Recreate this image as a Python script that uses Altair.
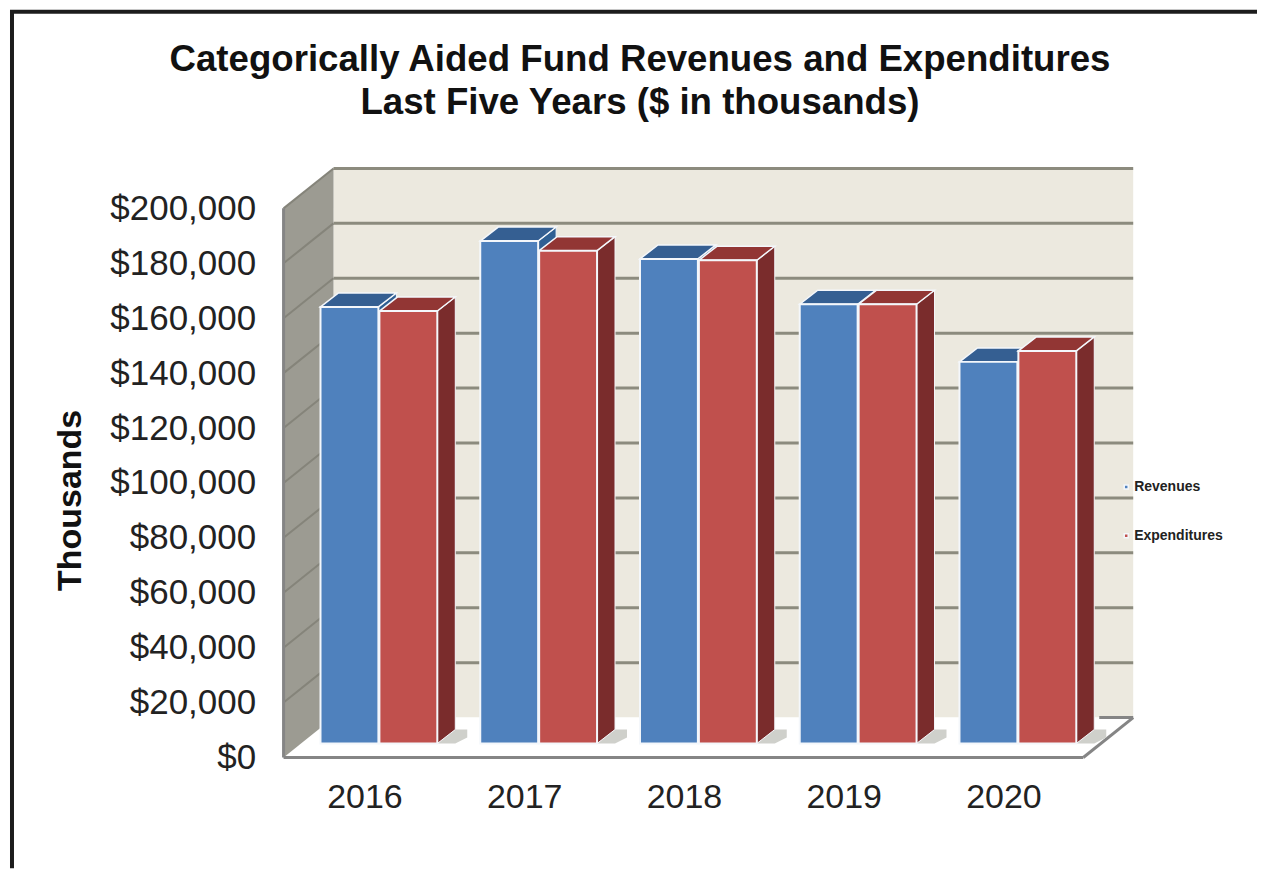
import altair as alt
import pandas as pd

# ---- values ----
years = [2016, 2017, 2018, 2019, 2020]
revenues = [159000, 183000, 176500, 160000, 139000]
expenditures = [157500, 179500, 176000, 160000, 143000]
tick_values = [0, 20000, 40000, 60000, 80000, 100000, 120000, 140000, 160000, 180000, 200000]
series_names = ["Revenues", "Expenditures"]
title_lines = ["Categorically Aided Fund Revenues and Expenditures", "Last Five Years ($ in thousands)"]

# ---- scale geometry (one year = 160 px, one dollar-thousand = 0.00275 px) ----
CHART_W, CHART_H = 1251, 860
PX_YEAR, PX_VAL = 160.0, 0.00275
def dx(px): return px / PX_YEAR
def dy(px): return px / PX_VAL
X0 = 2016 + dx(8 - 365)
X1 = 2016 + dx(8 + CHART_W - 365)
Y0 = dy(757 - (8 + CHART_H))
Y1 = dy(757 - 8)
xs = alt.Scale(domain=[X0, X1], nice=False, zero=False)
ys = alt.Scale(domain=[Y0, Y1], nice=False, zero=False)

left = 2016 + dx(284 - 365)
right = 2016 + dx(1085 - 365)
dep_x, dep_y = dx(50), dy(40)
top_val = 200000

x_axis = alt.Axis(values=years, format="d", orient="bottom", offset=-(8 + CHART_H - 780), title=None,
                  domain=False, ticks=False, grid=False, labelPadding=0, zindex=2,
                  labelFont="Liberation Sans", labelFontSize=34, labelColor="#222222")
y_axis = alt.Axis(values=tick_values, format="$,.0f", orient="left", offset=-(256 - 8),
                  domain=False, ticks=False, grid=False, labelPadding=0, zindex=2,
                  labelFont="Liberation Sans", labelFontSize=35, labelColor="#222222",
                  title="Thousands", titleFont="Liberation Sans", titleFontSize=34,
                  titleFontWeight="bold", titleColor="#111111",
                  titleX=-185, titleY=491, titleAlign="center", titleBaseline="middle")

def X(): return alt.X("x:Q", scale=xs, axis=x_axis)
def Y(): return alt.Y("y:Q", scale=ys, axis=y_axis, stack=None)

# ---- 3D bars as faces ----
fronts, sides, tops, shadows = [], [], [], []
off_x, off_y = dx(15), dy(14)
w, bdx, bdy = dx(58), dx(18), dy(14)
for yr, rev, exp in zip(years, revenues, expenditures):
    for k, (name, val) in enumerate(zip(series_names, (rev, exp))):
        x0 = yr + off_x + (-dx(59) if k == 0 else dx(0))
        base = off_y
        h = base + val
        fronts.append(dict(x=x0, x2=x0 + w, y=base, y2=h, series=name))
        g = f"{yr}-{name}"
        side_col = "#2f5f93" if k == 0 else "#7a2c2c"
        top_col = "#355f92" if k == 0 else "#923634"
        sides += [dict(g=g, x=x0 + w, y=h, y2=base, c=side_col),
                  dict(g=g, x=x0 + w + bdx, y=h + bdy, y2=base + bdy, c=side_col)]
        tops += [dict(g=g, x=x0, y=h, y2=h, c=top_col),
                 dict(g=g, x=x0 + bdx, y=h + bdy, y2=h, c=top_col),
                 dict(g=g, x=x0 + w, y=h + bdy, y2=h, c=top_col),
                 dict(g=g, x=x0 + w + bdx, y=h + bdy, y2=h + bdy, c=top_col)]
        if k == 1:
            sx = x0 + w
            shadows += [dict(g=g, x=sx, y=base, y2=base, c="#cfd0cb"),
                        dict(g=g, x=sx + dx(18), y=base + bdy, y2=base, c="#cfd0cb"),
                        dict(g=g, x=sx + dx(30), y=base + bdy, y2=base + dy(6), c="#cfd0cb")]

# ---- walls and floor ----
wall_back = pd.DataFrame([dict(x=left + dep_x, x2=right + dep_x, y=dep_y, y2=top_val + dep_y)])
wall_left = pd.DataFrame([dict(g="w", x=left, y=top_val, y2=0),
                          dict(g="w", x=left + dep_x, y=top_val + dep_y, y2=dep_y)])
floor = pd.DataFrame([dict(g="f", x=left, y=0, y2=0),
                      dict(g="f", x=left + dep_x, y=dep_y, y2=0),
                      dict(g="f", x=right, y=dep_y, y2=0),
                      dict(g="f", x=right + dep_x, y=dep_y, y2=dep_y)])
grid = pd.DataFrame([dict(x=left + dep_x, x2=right + dep_x, y=v + dep_y, y2=v + dep_y)
                     for v in tick_values[1:]])
grid_side = pd.DataFrame([dict(x=left, x2=left + dep_x, y=v, y2=v + dep_y) for v in tick_values[1:]])
front_edge = pd.DataFrame([dict(x=left, x2=right, y=0, y2=0),
                           dict(x=right, x2=right + dep_x, y=0, y2=dep_y),
                           dict(x=left, x2=left, y=0, y2=top_val),
                           dict(x=right + dep_x - dx(34), x2=right + dep_x, y=dep_y, y2=dep_y)])

def area(df, **mark):
    return alt.Chart(df).mark_area(**mark).encode(x=X(), y=Y(), y2="y2:Q", detail="g:N")

def faces(rows, **mark):
    return (alt.Chart(pd.DataFrame(rows)).mark_area(**mark)
            .encode(x=X(), y=Y(), y2="y2:Q", detail="g:N",
                    fill=alt.Fill("c:N", scale=None, legend=None)))

def rules(df, color, width):
    return alt.Chart(df).mark_rule(color=color, strokeWidth=width).encode(
        x=X(), x2="x2:Q", y=Y(), y2="y2:Q")

back_layer = alt.Chart(wall_back).mark_rect(color="#ece9df").encode(x=X(), x2="x2:Q", y=Y(), y2="y2:Q")

frame_top = alt.Chart(pd.DataFrame({"a": [0]})).mark_rule(color="#1c1c1c", strokeWidth=4).encode(
    x=alt.value(2), x2=alt.value(CHART_W), y=alt.value(2), y2=alt.value(2))
frame_left = alt.Chart(pd.DataFrame({"a": [0]})).mark_rule(color="#1c1c1c", strokeWidth=4).encode(
    x=alt.value(4), x2=alt.value(4), y=alt.value(1), y2=alt.value(CHART_H))

front_layer = (
    alt.Chart(pd.DataFrame(fronts))
    .mark_rect(stroke="#f4f7fb", strokeWidth=2)
    .encode(
        x=X(), x2="x2:Q", y=Y(), y2="y2:Q",
        color=alt.Color(
            "series:N",
            scale=alt.Scale(domain=series_names, range=["#4f81bd", "#c0504d"]),
            legend=alt.Legend(
                title=None, orient="none", legendX=1113, legendY=471, symbolType="square", zindex=2,
                symbolSize=16, rowPadding=35, labelFont="Liberation Sans", labelFontSize=14,
                labelFontWeight="bold", labelColor="#222222", labelOffset=1, labelLimit=200,
            ),
        ),
    )
)

chart = (
    alt.layer(
        back_layer,
        rules(grid, "#8c8b7e", 3),
        area(floor, color="white"),
        area(wall_left, color="#9c9b92"),
        rules(grid_side, "#85847a", 2),
        rules(front_edge, "#858585", 3),
        faces(shadows),
        faces(sides, stroke="#f4f7fb", strokeWidth=1),
        faces(tops, stroke="#f4f7fb", strokeWidth=1.5),
        front_layer,
        frame_top,
        frame_left,
    )
    .properties(
        width=CHART_W,
        height=CHART_H,
        padding=0,
        background="white",
        title=alt.TitleParams(
            text=title_lines, anchor="middle", orient="top", offset=-113, dx=7.5,
            font="Liberation Sans", fontSize=36.7, fontWeight="bold", color="#111111", lineHeight=43,
        ),
    )
    .configure_view(stroke=None)
)

chart.save("out.html", embed_options={"renderer": "svg", "actions": False})
